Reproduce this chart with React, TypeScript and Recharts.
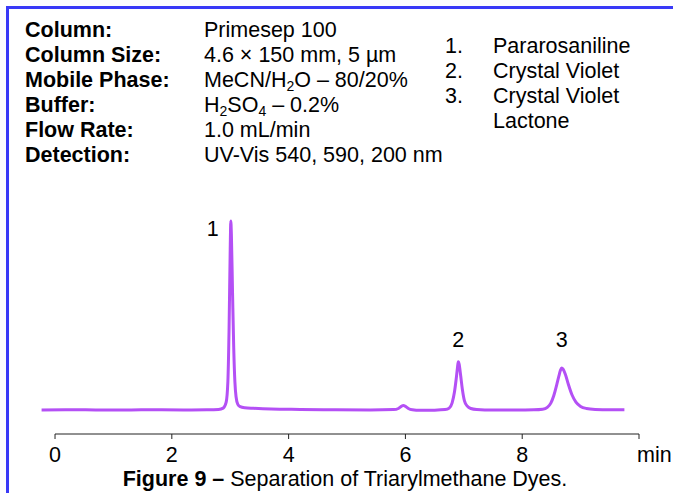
import React from 'react';
import { LineChart, Line, XAxis, YAxis, ReferenceDot, ReferenceLine } from 'recharts';

// chromatogram trace (time in min, signal in arbitrary units)
const times = [
  -0.23, 0.4, 1.0, 1.6, 2.2, 2.6, 2.8, 2.88, 2.93, 2.96, 2.98, 3.0, 3.01, 3.02, 3.04, 3.06,
  3.08, 3.1, 3.13, 3.17, 3.25, 3.4, 3.7, 4.2, 4.8, 5.4, 5.8, 5.88, 5.93, 5.965, 6.0, 6.05,
  6.12, 6.25, 6.5, 6.68, 6.75, 6.8, 6.84, 6.87, 6.89, 6.905, 6.92, 6.945, 6.975, 7.01, 7.06,
  7.12, 7.22, 7.5, 7.9, 8.2, 8.35, 8.43, 8.49, 8.54, 8.59, 8.63, 8.655, 8.676, 8.7, 8.74,
  8.79, 8.85, 8.92, 9.0, 9.1, 9.25, 9.5, 9.75,
];
const signal = [
  0, 0.1, 0, 0.1, 0, 0.1, 0.3, 1.0, 4, 15, 42, 85, 100, 93, 62, 33,
  15, 7, 3, 1.8, 1.2, 0.9, 0.5, 0.3, 0.1, 0, 0.2, 0.8, 1.9, 2.4, 1.9, 0.8,
  0.1, -0.2, -0.1, 0.2, 1.0, 3.8, 9.5, 16.5, 22, 25.5, 24.3, 18.5, 11, 5, 2,
  0.8, 0.3, 0, 0, 0.1, 0.4, 1.4, 3.6, 7.5, 13.2, 18.2, 21.0, 22.2, 21.6, 18.8,
  13.6, 8.2, 4.2, 1.9, 0.8, 0.3, 0.1, 0.1,
];

const axisTicks = [0, 2, 4, 6, 8, 10];
const axisUnit = 'min';

const peakNumbers = ['1', '2', '3'];
const peakTimes = [3.01, 6.905, 8.676];
const peakHeights = [100, 25.5, 22.2];

const conditionNames = ['Column:', 'Column Size:', 'Mobile Phase:', 'Buffer:', 'Flow Rate:', 'Detection:'];
const conditionValues = [
  'Primesep 100',
  '4.6 × 150 mm, 5 µm',
  'MeCN/H_2O – 80/20%',
  'H_2SO_4 – 0.2%',
  '1.0 mL/min',
  'UV-Vis 540, 590, 200 nm',
];
const compounds = ['Pararosaniline', 'Crystal Violet', 'Crystal Violet Lactone'];
const captionBold = 'Figure 9 –';
const captionText = 'Separation of Triarylmethane Dyes.';

const data = times.map((t, i) => ({ t, v: signal[i] }));

const FONT = '"Liberation Sans", Arial, Helvetica, sans-serif';
const FS = 21.5;
const TRACE = '#b450f5';
const FRAME = '#3a3af7';

// turns "H_2O" into H<sub>2</sub>O
const withSubs = (s: string) =>
  s.split(/_(\d)/).map((part, i) =>
    i % 2 === 1 ? (
      <sub key={i} style={{ fontSize: 14, verticalAlign: -4, lineHeight: 0 }}>{part}</sub>
    ) : (
      <span key={i}>{part}</span>
    )
  );

const AxisTick = ({ x, y, payload }: any) => {
  const isEnd = payload.value === 10;
  return (
    <text
      x={isEnd ? x - 2 : x}
      y={y}
      dy="0.71em"
      textAnchor={isEnd ? 'start' : 'middle'}
      fontSize={FS}
      fontFamily={FONT}
      fill="#000"
    >
      {isEnd ? axisUnit : payload.value}
    </text>
  );
};

export default function App() {
  return (
    <div
      style={{
        position: 'absolute',
        left: 0,
        top: 0,
        width: 673,
        height: 493,
        background: '#fff',
        overflow: 'hidden',
        fontFamily: FONT,
        color: '#000',
      }}
    >
      <div
        style={{
          position: 'absolute',
          left: 6,
          top: 6,
          right: -10,
          bottom: -10,
          borderTop: `3px solid ${FRAME}`,
          borderLeft: `3px solid ${FRAME}`,
        }}
      />

      <LineChart
        width={673}
        height={493}
        data={data}
        margin={{ top: 202, right: 34, left: 41, bottom: 29 }}
        style={{ position: 'absolute', left: 0, top: 0 }}
      >
        <YAxis hide type="number" domain={[-12.7, 110]} />
        <XAxis
          type="number"
          dataKey="t"
          domain={[-0.24, 10]}
          ticks={axisTicks}
          axisLine={false}
          tickLine={{ stroke: '#222' }}
          tickSize={5}
          tickMargin={8}
          height={30}
          tick={<AxisTick />}
          interval={0}
        />
        <ReferenceLine
          segment={[
            { x: 0, y: -12.7 },
            { x: 10, y: -12.7 },
          ]}
          stroke="#222"
          strokeWidth={1}
        />
        <Line
          type="monotone"
          dataKey="v"
          stroke={TRACE}
          strokeWidth={3}
          dot={false}
          isAnimationActive={false}
        />
        {peakNumbers.map((n, i) => (
          <ReferenceDot
            key={n}
            x={peakTimes[i]}
            y={i === 0 ? peakHeights[i] - 4 : peakHeights[i]}
            r={0}
            fill="none"
            stroke="none"
            label={{
              value: n,
              position: i === 0 ? 'left' : 'top',
              offset: i === 0 ? 12 : i === 1 ? 15 : 21,
              fontSize: FS,
              fontFamily: FONT,
              fill: '#000',
            }}
          />
        ))}
      </LineChart>

      <div style={{ position: 'absolute', left: 25, top: 18, fontSize: FS, lineHeight: '25px' }}>
        {conditionNames.map((name, i) => (
          <div key={name} style={{ display: 'flex', whiteSpace: 'nowrap' }}>
            <div style={{ width: 179, fontWeight: 'bold' }}>{name}</div>
            <div>{withSubs(conditionValues[i])}</div>
          </div>
        ))}
      </div>

      <div style={{ position: 'absolute', left: 445, top: 34, fontSize: FS, lineHeight: '25px' }}>
        {compounds.map((c, i) => (
          <div key={c} style={{ display: 'flex' }}>
            <div style={{ width: 48 }}>{i + 1}.</div>
            <div style={{ width: 160 }}>{c}</div>
          </div>
        ))}
      </div>

      <div
        style={{
          position: 'absolute',
          left: 0,
          width: 690,
          top: 468,
          textAlign: 'center',
          fontSize: FS,
          lineHeight: '22px',
          whiteSpace: 'nowrap',
        }}
      >
        <b>{captionBold}</b> {captionText}
      </div>
    </div>
  );
}
